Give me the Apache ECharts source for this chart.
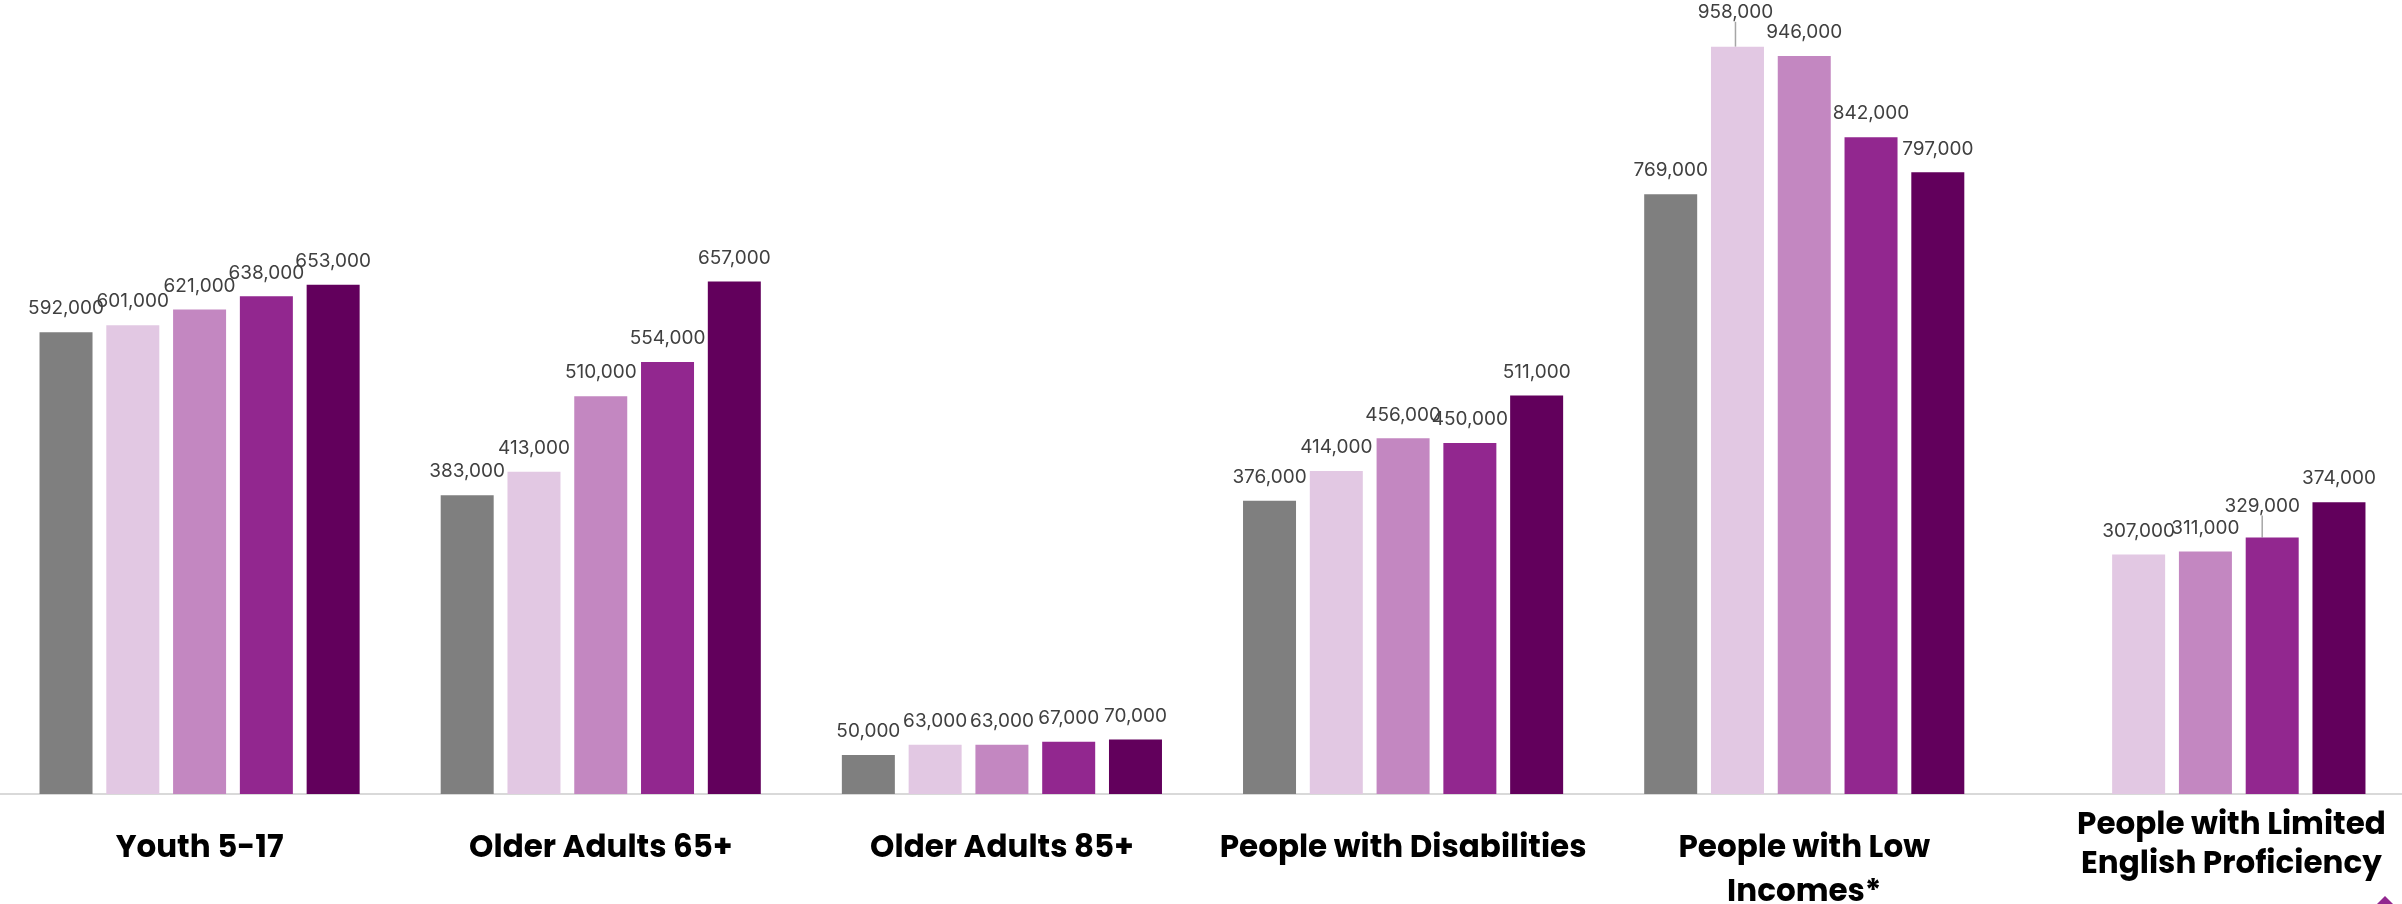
<!DOCTYPE html>
<html>
<head>
<meta charset="utf-8">
<script src="https://cdn.jsdelivr.net/npm/echarts@6/dist/echarts.min.js"></script>
<style>
  html, body { margin: 0; padding: 0; background: #fff; }
  #chart { width: 2402px; height: 904px; }
</style>
</head>
<body>
<div id="chart"></div>
<script>
// categories (x axis)
const categories = [
  "Youth 5-17",
  "Older Adults 65+",
  "Older Adults 85+",
  "People with Disabilities",
  "People with Low\nIncomes*",
  "People with Limited\nEnglish Proficiency",
];

// one array per bar colour, left to right inside each group
const seriesGray = [592000, 383000, 50000, 376000, 769000, null];
const seriesLight = [601000, 413000, 63000, 414000, 958000, 307000];
const seriesMedium = [621000, 510000, 63000, 456000, 946000, 311000];
const seriesPurple = [638000, 554000, 67000, 450000, 842000, 329000];
const seriesDark = [653000, 657000, 70000, 511000, 797000, 374000];

const colors = ["#7f7f7f", "#e2c8e3", "#c387c1", "#92278f", "#62005c"];

// labels that were pulled away from their bar (with a leader line)
const movedLabels = {
  "1-4": { dx: -2, dy: -11 },
  "3-5": { dx: -10, dy: -8 },
};

let chart = echarts.init(document.getElementById("chart"));

function makeSeries(name, data, idx) {
  return {
    name: name,
    type: "bar",
    data: data.map((v, i) => {
      if (movedLabels[idx + "-" + i]) {
        return { value: v, labelLine: { show: true } };
      }
      return v;
    }),
    barWidth: 53,
    barGap: "26%",
    itemStyle: { color: colors[idx] },
    label: {
      show: true,
      position: "top",
      distance: 14,
      color: "#404040",
      fontSize: 19,
      fontFamily: "Inter, 'Open Sans', sans-serif",
      formatter: (p) => p.value.toLocaleString("en-US"),
    },
    labelLine: {
      show: false,
      lineStyle: { color: "#a6a6a6", width: 1.5 },
    },
    labelLayout: (params) => {
      let m = movedLabels[params.seriesIndex + "-" + params.dataIndex];
      return m ? { dx: m.dx, dy: m.dy } : {};
    },
  };
}

let options = {
  animation: false,
  grid: {
    left: -1,
    right: -4,
    top: 14,
    bottom: 110,
    containLabel: false,
    outerBoundsMode: "none",
  },
  xAxis: {
    type: "category",
    data: categories.map((c, i) => {
      if (i === 5) {
        return {
          value: c,
          textStyle: { lineHeight: 39, verticalAlign: "top", padding: [0, 0, 0, 52] },
        };
      }
      return c;
    }),
    axisTick: { show: false },
    axisLine: {
      lineStyle: { color: "#d9d9d9", width: 2 },
    },
    axisLabel: {
      interval: 0,
      margin: 13,
      verticalAlign: "top",
      padding: [20, 0, 0, 0],
      lineHeight: 44,
      color: "#000",
      fontSize: 31,
      fontWeight: "bold",
      fontFamily: "Poppins, Inter, 'Open Sans', sans-serif",
    },
  },
  yAxis: {
    type: "value",
    min: 0,
    max: 1000000,
    show: false,
    splitLine: { show: false },
  },
  series: [
    makeSeries("Series 1", seriesGray, 0),
    makeSeries("Series 2", seriesLight, 1),
    makeSeries("Series 3", seriesMedium, 2),
    makeSeries("Series 4", seriesPurple, 3),
    makeSeries("Series 5", seriesDark, 4),
  ],
  graphic: [
    {
      type: "polygon",
      shape: { points: [[2385, 896], [2400, 911], [2370, 911]] },
      style: { fill: "#92278f" },
    },
  ],
};

chart.setOption(options);
</script>
</body>
</html>
